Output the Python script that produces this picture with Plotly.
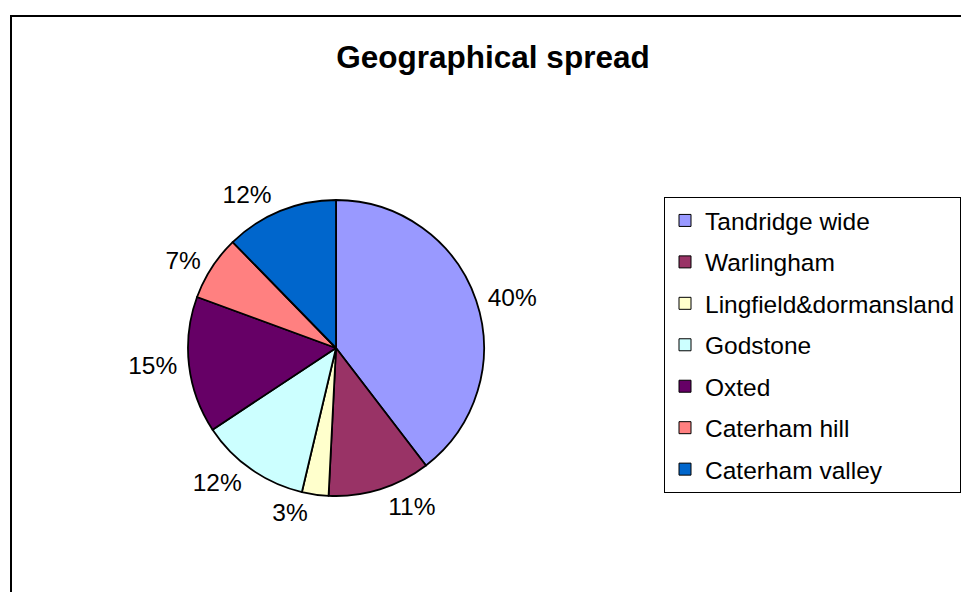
import plotly.graph_objects as go

W, H = 961, 592

categories = ["Tandridge wide", "Warlingham", "Lingfield&dormansland", "Godstone",
              "Oxted", "Caterham hill", "Caterham valley"]
values = [39.6, 11.2, 2.9, 12.0, 14.9, 7.1, 12.3]
colors = ["#9999FF", "#993366", "#FFFFCC", "#CCFFFF", "#660066", "#FF8080", "#0066CC"]
title_text = "Geographical spread"

FONT = "Liberation Sans, Arial, sans-serif"

cx, cy, r = 336, 348, 148
r_lab = r + 5  # labels sit a little further out than plotly's default

def dom(rad):
    return dict(x=[(cx - rad) / W, (cx + rad) / W],
                y=[(H - cy - rad) / H, (H - cy + rad) / H])

fig = go.Figure()

# label carrier (invisible wedges, slightly larger radius) for outside percent labels
fig.add_trace(go.Pie(
    labels=categories, values=values, sort=False, direction="clockwise", rotation=0,
    marker=dict(colors=["rgba(0,0,0,0)"] * len(values), line=dict(width=0)),
    textposition="outside", texttemplate="%{percent:.0%}",
    textfont=dict(family=FONT, size=24.5, color="black"),
    hoverinfo="skip", showlegend=False, domain=dom(r_lab),
))

# visible pie
fig.add_trace(go.Pie(
    labels=categories, values=values, sort=False, direction="clockwise", rotation=0,
    marker=dict(colors=colors, line=dict(color="black", width=1.8)),
    textinfo="none", hoverinfo="label+percent", showlegend=False, domain=dom(r),
))

# legend entries (one group each so the row spacing can be matched)
for name, col in zip(categories, colors):
    fig.add_trace(go.Scatter(
        x=[None], y=[None], mode="markers", name=name, legendgroup=name,
        marker=dict(symbol="square", size=12, color=col, line=dict(color="black", width=1)),
        showlegend=True,
    ))

fig.update_layout(
    width=W, height=H,
    margin=dict(l=0, r=0, t=0, b=0),
    paper_bgcolor="white",
    plot_bgcolor="white",
    xaxis=dict(visible=False), yaxis=dict(visible=False),
    title=dict(text=title_text, x=493 / W, y=1 - 57 / H, xanchor="center", yanchor="middle",
               font=dict(family=FONT, size=31.5, color="black", weight="bold")),
    legend=dict(x=664 / W, y=1 - 197 / H, xanchor="left", yanchor="top",
                bordercolor="black", borderwidth=1, bgcolor="white",
                traceorder="grouped", tracegroupgap=6.6,
                font=dict(family=FONT, size=24.5, color="black")),
    showlegend=True,
    hovermode="closest",
    shapes=[dict(type="rect", xref="paper", yref="paper",
                 x0=11 / W, x1=1.05, y0=-0.05, y1=1 - 16 / H,
                 line=dict(color="black", width=2))],
)

fig.write_html("out.html",
               config={"displayModeBar": False},
               post_script="document.body.style.margin='0';document.body.style.overflow='hidden';")
